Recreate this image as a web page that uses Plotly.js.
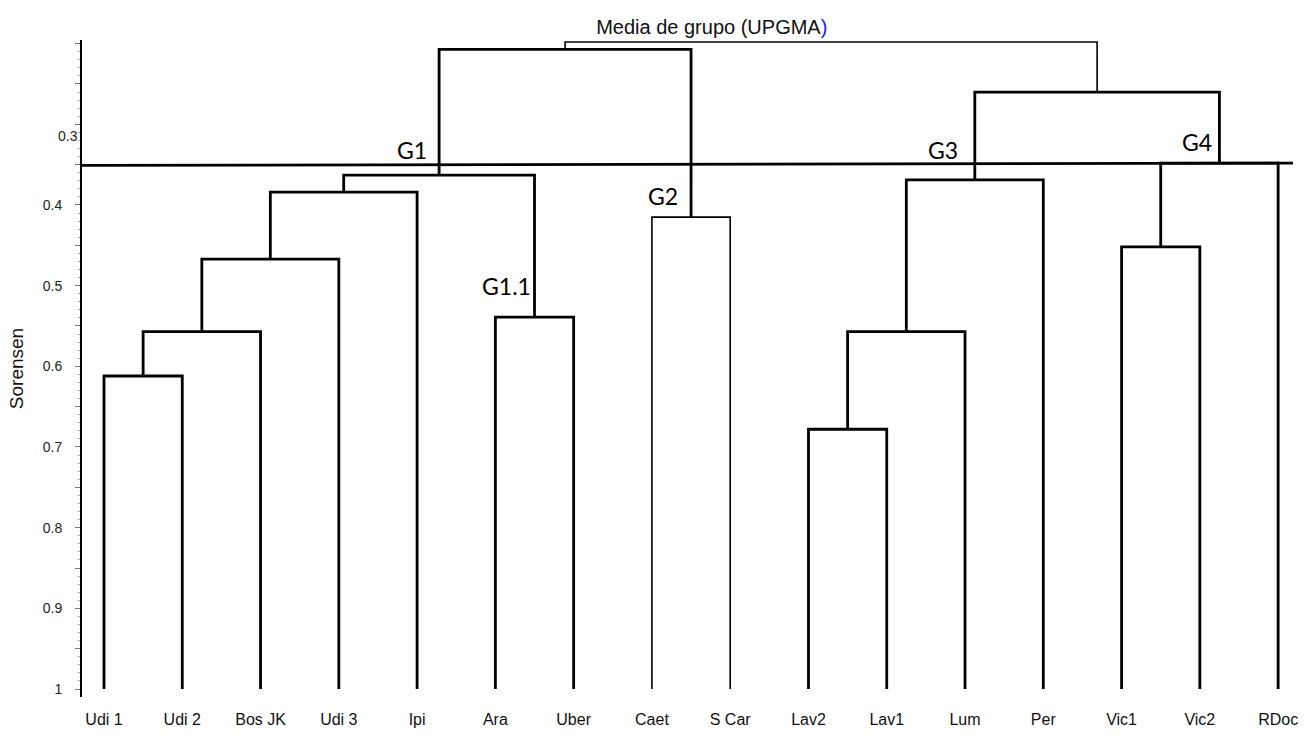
<!DOCTYPE html>
<html>
<head>
<meta charset="utf-8">
<script src="https://cdn.plot.ly/plotly-3.0.1.min.js"></script>
<style>html,body{margin:0;padding:0;background:#fff;}#chart{width:1306px;height:740px;}</style>
</head>
<body>
<div id="chart"></div>
<script>
// Leaves (sites), in dendrogram order
const leaves = ['Udi 1','Udi 2','Bos JK','Udi 3','Ipi','Ara','Uber','Caet','S Car','Lav2','Lav1','Lum','Per','Vic1','Vic2','RDoc'];
// Merges: [left node, right node, Sorensen distance]; node ids 0-15 are leaves, 16+ are merges in order
const mergeLeft   = [0, 16, 17, 18, 5, 19, 7, 21, 9, 24, 25, 13, 27, 26, 23];
const mergeRight  = [1, 2, 3, 4, 6, 20, 8, 22, 10, 11, 12, 14, 15, 28, 29];
const mergeHeight = [0.612, 0.557, 0.467, 0.384, 0.539, 0.363, 0.415, 0.207, 0.678, 0.557, 0.369, 0.452, 0.348, 0.260, 0.198];
const leafHeight = 1.0;
// Cut (group) line, left and right level
const cutLevels = [0.351, 0.348];
// Group labels
const groupNames = ['G1', 'G1.1', 'G2', 'G3', 'G4'];
const groupX = [3.94, 5.14, 7.14, 10.72, 13.96];
const groupY = [0.332, 0.500, 0.389, 0.332, 0.322];
// Y axis ticks
const yMajor = [0.2,0.25,0.3,0.35,0.4,0.45,0.5,0.55,0.6,0.65,0.7,0.75,0.8,0.85,0.9,0.95,1.0];
const yLabels = ['','','','','0.4','','0.5','','0.6','','0.7','','0.8','','0.9','','1'];
const yShiftedLabel = {text: '0.3', value: 0.3145};

const pos = leaves.map((_, i) => i);
const hgt = leaves.map(() => leafHeight);
const thin = new Set([6, 14]);
const xs = [], ys = [], xt = [], yt = [];
for (let k = 0; k < mergeHeight.length; k++) {
  const a = mergeLeft[k], b = mergeRight[k], h = mergeHeight[k];
  const X = thin.has(k) ? xt : xs, Y = thin.has(k) ? yt : ys;
  X.push(pos[a], pos[a], pos[b], pos[b], null);
  Y.push(hgt[a], h, h, hgt[b], null);
  pos.push((pos[a] + pos[b]) / 2);
  hgt.push(h);
}
const xRange = [-0.281, 15.19];

const traces = [
  {type:'scatter', mode:'lines', x: xs, y: ys, line:{color:'#000', width:2.8}, hoverinfo:'skip', showlegend:false, connectgaps:false},
  {type:'scatter', mode:'lines', x: xt, y: yt, line:{color:'#000', width:1.6}, hoverinfo:'skip', showlegend:false, connectgaps:false},
  {type:'scatter', mode:'lines', x: xRange, y: cutLevels, line:{color:'#000', width:2.8}, hoverinfo:'skip', showlegend:false}
];

const annotations = groupNames.map((g, i) => ({
  x: groupX[i], y: groupY[i], xref:'x', yref:'y', text: g, showarrow:false,
  font:{family:'Lato, Open Sans, sans-serif', size:23, color:'#000'}, xanchor:'center', yanchor:'middle'
}));
annotations.push({
  x: -0.002, y: yShiftedLabel.value, xref:'paper', yref:'y', text: yShiftedLabel.text, showarrow:false,
  font:{family:'Liberation Sans, Arial, sans-serif', size:14, color:'#222'}, xanchor:'right', yanchor:'middle'
});

const layout = {
  width:1306, height:740,
  margin:{l:82, r:13, t:40, b:43},
  paper_bgcolor:'#fff', plot_bgcolor:'#fff',
  showlegend:false,
  title:{text:'Media de grupo (UPGMA<span style="color:#1a1aff">)</span>', x:0.545, xref:'container', y:0.963, yref:'container', xanchor:'center', yanchor:'middle',
    font:{family:'Liberation Sans, Arial, sans-serif', size:20, color:'#111'}},
  xaxis:{range:xRange, showgrid:false, zeroline:false, showline:false, ticks:'',
    tickmode:'array', tickvals: leaves.map((_, i) => i), ticktext: leaves,
    tickfont:{family:'Liberation Sans, Arial, sans-serif', size:16, color:'#111'}, ticklabelstandoff:11, fixedrange:true},
  yaxis:{range:[1.0099, 0.1955], showgrid:false, zeroline:false, showline:true, linecolor:'#000', linewidth:2,
    ticks:'outside', ticklen:5, tickwidth:1, tickcolor:'#777', tickmode:'array', tickvals:yMajor, ticktext:yLabels,
    minor:{tickmode:'linear', tick0:0, dtick:0.01, ticks:'outside', ticklen:2, tickwidth:1, tickcolor:'#aaa'},
    tickfont:{family:'Liberation Sans, Arial, sans-serif', size:14, color:'#222'}, ticklabelstandoff:10,
    title:{text:'Sorensen', standoff:14, font:{family:'Liberation Sans, Arial, sans-serif', size:19, color:'#111'}}, fixedrange:true},
  annotations: annotations
};

Plotly.newPlot('chart', traces, layout, {staticPlot:true, displayModeBar:false});
</script>
</body>
</html>
